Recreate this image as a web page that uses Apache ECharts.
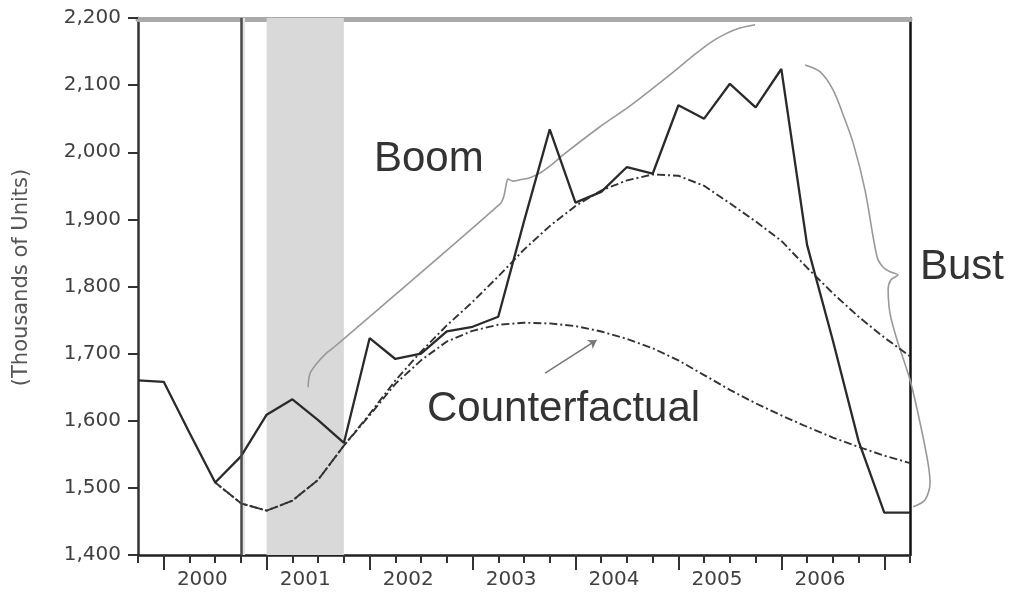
<!DOCTYPE html>
<html>
<head>
<meta charset="utf-8">
<script src="https://cdn.jsdelivr.net/npm/echarts@6/dist/echarts.min.js"></script>
<style>
  html, body { margin: 0; padding: 0; background: #ffffff; }
  #chart { width: 1018px; height: 598px; }
</style>
</head>
<body>
<div id="chart"></div>
<script>
// ---- data ----
const quarters = ['1999Q4',
  '2000Q1','2000Q2','2000Q3','2000Q4',
  '2001Q1','2001Q2','2001Q3','2001Q4',
  '2002Q1','2002Q2','2002Q3','2002Q4',
  '2003Q1','2003Q2','2003Q3','2003Q4',
  '2004Q1','2004Q2','2004Q3','2004Q4',
  '2005Q1','2005Q2','2005Q3','2005Q4',
  '2006Q1','2006Q2','2006Q3','2006Q4',
  '2007Q1','2007Q2'];
const yearLabels = ['2000','2001','2002','2003','2004','2005','2006'];

// Actual housing starts (thousands of units)
const actualStarts = [1660,
  1658, 1582, 1508, 1547,
  1609, 1632, 1601, 1567,
  1723, 1692, 1700, 1733,
  1740, 1755, 1897, 2034,
  1925, 1941, 1978, 1968,
  2070, 2050, 2102, 2067,
  2124, 1862, 1720, 1570,
  1463, 1463];

// Model path with actual policy (boom / bust fit)
const boomPath = [null,
  null, null, 1508, 1477,
  1466, 1481, 1512, 1563,
  1610, 1660, 1703, 1742,
  1777, 1815, 1855, 1890,
  1920, 1943, 1958, 1967,
  1965, 1950, 1924, 1897,
  1868, 1828, 1790, 1755,
  1724, 1696];

// Counterfactual path
const counterfactualPath = [null,
  null, null, 1508, 1477,
  1466, 1481, 1512, 1563,
  1608, 1655, 1690, 1718,
  1734, 1743, 1746, 1745,
  1741, 1733, 1722, 1708,
  1690, 1668, 1646, 1626,
  1608, 1591, 1575, 1561,
  1548, 1537];

// Annotation braces and arrow, in [quarter index from 1999Q4, thousands of units]
const boomBrace = [
  [6.61,1650],[6.68,1670],[6.92,1684],[7.27,1699],[7.66,1711],
  [14.07,1923],[14.22,1935],[14.30,1950],[14.38,1960],
  [14.57,1957],[14.85,1959],[15.23,1962],[15.62,1969],[16.09,1982],[16.52,1996],
  [17.95,2038],[19.12,2069],[20.56,2112],[21.45,2140],[22.23,2163],
  [22.81,2176],[23.39,2185],[23.98,2190]
];
const bustBrace = [
  [25.92,2130],[26.50,2120],[27.01,2093],[27.40,2056],[27.79,2014],
  [28.25,1944],[28.72,1844],[28.95,1829],[29.22,1822],[29.53,1817],
  [29.26,1810],[29.15,1795],[29.18,1772],[29.26,1753],[29.50,1720],
  [30.00,1661],[30.39,1597],[30.70,1537],[30.78,1507],[30.58,1482],[30.12,1472]
];
const counterArrow = [[15.82,1671],[17.82,1720]];
const recession = ['2001Q1','2001Q4'];
const simStart = 4;
const simStartStrip = [4.04, 4.16];

const chart = echarts.init(document.getElementById('chart'), null, { renderer: 'canvas' });

const tickFont = { fontFamily: 'DejaVu Sans', fontSize: 20, color: '#404040' };
const plotLeft = 138, plotTop = 18, plotBottom = 43, plotWidth = 772;
const nQuarterSteps = quarters.length - 1;      // 30 steps across the plot
const overlayMax = 32;                            // wider overlay grid for annotations

const option = {
  animation: false,
  backgroundColor: '#ffffff',
  grid: [
    { left: plotLeft, width: plotWidth, top: plotTop, bottom: plotBottom, containLabel: false },
    { left: plotLeft, width: plotWidth * overlayMax / nQuarterSteps, top: plotTop, bottom: plotBottom, containLabel: false }
  ],
  xAxis: [
    { // quarterly axis carrying the data
      gridIndex: 0, type: 'category', data: quarters, boundaryGap: false, position: 'bottom',
      axisLine: { show: true, lineStyle: { color: '#222', width: 2.5 } },
      axisTick: { show: true, interval: 0, length: 8, lineStyle: { color: '#333', width: 2 } },
      axisLabel: { show: false }, splitLine: { show: false }
    },
    { // major ticks at the first quarter of each year
      gridIndex: 0, type: 'category', data: quarters, boundaryGap: false, position: 'bottom',
      axisLine: { show: false },
      axisTick: { show: true, interval: (i, v) => /Q1$/.test(v), length: 15, lineStyle: { color: '#333', width: 2 } },
      axisLabel: { show: false }, splitLine: { show: false }
    },
    { // continuous overlay axis for annotations and centred year labels
      gridIndex: 1, type: 'value', min: 0, max: overlayMax, interval: 0.5, position: 'bottom',
      axisLine: { show: false }, axisTick: { show: false }, splitLine: { show: false },
      axisLabel: Object.assign({
        show: true, margin: 15,
        formatter: (v) => {
          const k = Math.round((v - 2.5) / 4);
          return (Math.abs((v - 2.5) / 4 - k) < 1e-6 && k >= 0 && k < yearLabels.length) ? yearLabels[k] : '';
        }
      }, tickFont)
    },
    { // top border
      gridIndex: 0, type: 'value', min: 0, max: 30, position: 'top', offset: -1.5,
      axisLine: { show: true, lineStyle: { color: '#aaaaaa', width: 5 } },
      axisTick: { show: false }, axisLabel: { show: false }, splitLine: { show: false }
    }
  ],
  yAxis: [
    {
      gridIndex: 0, type: 'value', min: 1400, max: 2200, interval: 100, position: 'left',
      name: '(Thousands of Units)', nameLocation: 'middle', nameRotate: 90, nameGap: 106,
      nameTextStyle: { fontFamily: 'DejaVu Sans', fontSize: 21, color: '#555', padding: [0, 0, 0, 18] },
      axisLine: { show: true, lineStyle: { color: '#333', width: 2.5 } },
      axisTick: { show: true, inside: false, length: 10, lineStyle: { color: '#333', width: 2 } },
      axisLabel: Object.assign({ margin: 17, formatter: (v) => v.toLocaleString('en-US') }, tickFont),
      splitLine: { show: false }
    },
    {
      gridIndex: 0, type: 'value', min: 1400, max: 2200, position: 'right',
      axisLine: { show: true, lineStyle: { color: '#111', width: 2.5 } },
      axisTick: { show: false }, axisLabel: { show: false }, splitLine: { show: false }
    },
    {
      gridIndex: 1, type: 'value', min: 1400, max: 2200, show: false
    }
  ],
  graphic: [
    { type: 'text', left: 374, top: 138, style: { text: 'Boom', font: '42px "Liberation Sans", Arial, sans-serif', fill: '#333' }, z: 10 },
    { type: 'text', left: 427, top: 388, style: { text: 'Counterfactual', font: '42px "Liberation Sans", Arial, sans-serif', fill: '#333' }, z: 10 },
    { type: 'text', left: 920, top: 246, style: { text: 'Bust', font: '42px "Liberation Sans", Arial, sans-serif', fill: '#333' }, z: 10 }
  ],
  series: [
    { // recession shading and simulation start line
      type: 'line', xAxisIndex: 0, yAxisIndex: 0, data: [], z: 1, silent: true,
      markArea: {
        silent: true,
        itemStyle: { color: '#d9d9d9' },
        data: [[{ xAxis: recession[0] }, { xAxis: recession[1] }]]
      },
      markLine: {
        silent: true, symbol: 'none', label: { show: false },
        lineStyle: { color: '#4a4a4a', width: 2.5, type: 'solid' },
        data: [{ xAxis: simStart }]
      }
    },
    {
      type: 'line', xAxisIndex: 2, yAxisIndex: 2, data: [], z: 1, silent: true,
      markArea: {
        silent: true,
        itemStyle: { color: '#e2e2e2' },
        data: [[{ xAxis: simStartStrip[0] }, { xAxis: simStartStrip[1] }]]
      }
    },
    {
      name: 'Counterfactual', type: 'line', xAxisIndex: 0, yAxisIndex: 0,
      data: counterfactualPath, showSymbol: false, symbol: 'none', z: 3,
      lineStyle: { color: '#333', width: 1.9, type: [8, 3, 2, 3] }
    },
    {
      name: 'Boom', type: 'line', xAxisIndex: 0, yAxisIndex: 0,
      data: boomPath, showSymbol: false, symbol: 'none', z: 3,
      lineStyle: { color: '#333', width: 1.9, type: [8, 3, 2, 3], dashOffset: 6 }
    },
    {
      name: 'Actual', type: 'line', xAxisIndex: 0, yAxisIndex: 0,
      data: actualStarts, showSymbol: false, symbol: 'none', z: 4,
      lineStyle: { color: '#2a2a2a', width: 2.3 }
    },
    {
      type: 'line', xAxisIndex: 2, yAxisIndex: 2, data: boomBrace, smooth: 0.3,
      showSymbol: false, symbol: 'none', clip: false, z: 2,
      lineStyle: { color: '#999', width: 1.6 }
    },
    {
      type: 'line', xAxisIndex: 2, yAxisIndex: 2, data: bustBrace, smooth: 0.3,
      showSymbol: false, symbol: 'none', clip: false, z: 2,
      lineStyle: { color: '#999', width: 1.6 }
    },
    {
      type: 'line', xAxisIndex: 2, yAxisIndex: 2, data: [], z: 2,
      markLine: {
        silent: true, symbol: ['none', 'arrow'], symbolSize: 8, label: { show: false },
        lineStyle: { color: '#777', width: 1.5, type: 'solid' },
        itemStyle: { color: '#333' },
        data: [[{ coord: counterArrow[0] }, { coord: counterArrow[1] }]]
      }
    }
  ]
};
chart.setOption(option);
</script>
</body>
</html>
